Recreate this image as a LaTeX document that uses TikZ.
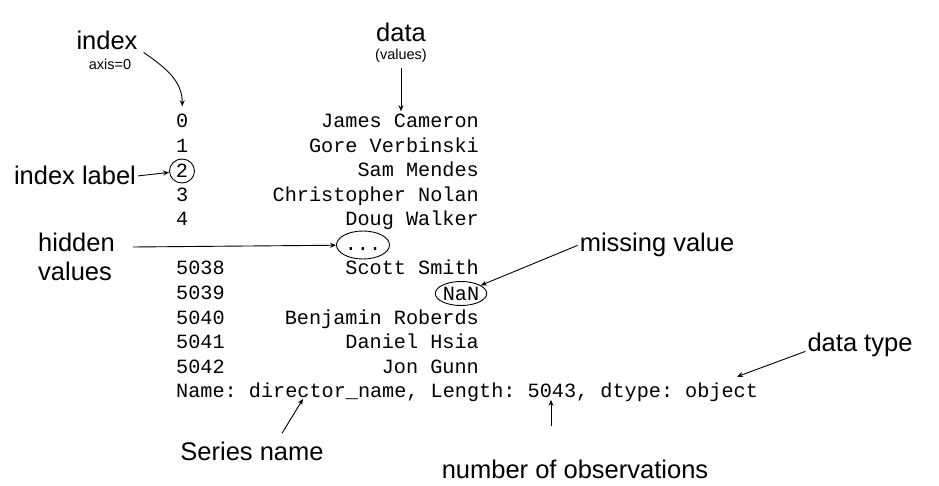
\documentclass[tikz,border=0pt]{standalone}
\usepackage{fontspec}
\setmainfont{Liberation Sans}
\newfontfamily\codefont{Liberation Mono}
\usetikzlibrary{shapes.geometric, arrows.meta, positioning}

\begin{document}
\begin{tikzpicture}[
    x=1pt, y=-1pt,
    callout/.style={font=\fontsize{25.5}{29}\selectfont, inner sep=2pt},
    sublabel/.style={font=\fontsize{14.5}{17}\selectfont, inner sep=2pt},
    codetext/.style={font=\codefont\fontsize{20.2}{24}\selectfont\frenchspacing,
                     inner sep=0pt},
    oval/.style={draw, ellipse, line width=0.9pt, inner sep=0pt,
                 font=\codefont\fontsize{20.2}{24}\selectfont},
    arrow/.style={-{Stealth[length=6pt, width=5pt]}, line width=0.9pt},
]
\useasboundingbox (0,0) rectangle (939,486);

% Index column
\node[codetext, anchor=base west] (idx0) at (176,128) {0};
\node[codetext, anchor=base west] (idx1) at (176,152.5) {1};
\node[oval, minimum width=25pt, minimum height=24pt] (ring2) at (182,171) {2};
\node[codetext, anchor=base west] (idx3) at (176,201.5) {3};
\node[codetext, anchor=base west] (idx4) at (176,226) {4};
\node[codetext, anchor=base west] (idx5038) at (176,275) {5038};
\node[codetext, anchor=base west] (idx5039) at (176,299.5) {5039};
\node[codetext, anchor=base west] (idx5040) at (176,324) {5040};
\node[codetext, anchor=base west] (idx5041) at (176,348.5) {5041};
\node[codetext, anchor=base west] (idx5042) at (176,373) {5042};

% Values column
\node[codetext, anchor=base east] (val0) at (479,128) {James Cameron};
\node[codetext, anchor=base east] (val1) at (479,152.5) {Gore Verbinski};
\node[codetext, anchor=base east] (val2) at (479,177) {Sam Mendes};
\node[codetext, anchor=base east] (val3) at (479,201.5) {Christopher Nolan};
\node[codetext, anchor=base east] (val4) at (479,226) {Doug Walker};
\node[oval, minimum width=53pt, minimum height=28pt] (dotsring) at (363,245) {};
\node[codetext, anchor=base] (dots) at (363,251) {...};
\node[codetext, anchor=base east] (val5038) at (479,275) {Scott Smith};
\node[oval, minimum width=50pt, minimum height=24pt] (nanring) at (461,293.5) {NaN};
\node[codetext, anchor=base east] (val5040) at (479,324) {Benjamin Roberds};
\node[codetext, anchor=base east] (val5041) at (479,348.5) {Daniel Hsia};
\node[codetext, anchor=base east] (val5042) at (479,373) {Jon Gunn};

% Footer line
\node[codetext, anchor=base west] (nameline) at (176,397.5)
    {Name: director\_name, Length: 5043, dtype: object};

% Callouts
\node[callout, anchor=base] (index) at (107,50) {index};
\node[sublabel, below=4pt of index, xshift=3pt] (axis) {axis=0};
\node[callout, anchor=base] (data) at (401,42) {data};
\node[sublabel, below=2pt of data] (values) {(values)};
\node[callout, anchor=base] (idxlabel) at (75,185) {index label};
\node[callout, anchor=west, align=left] (hidvals) at (36,257) {hidden\\values};
\node[callout, anchor=base] (missing) at (657,252) {missing value};
\node[callout, anchor=base] (dtype) at (860,351) {data type};
\node[callout, anchor=base] (series) at (252,460) {Series name};
\node[callout, anchor=base] (numobs) at (575,478) {number of observations};

% Arrows
\draw[arrow] ([xshift=4pt]index.south east) to[out=-35, in=90]
    ([yshift=8pt]idx0.north);
\draw[arrow, shorten <=4pt, shorten >=3pt] (values.south) -- (values.south |- val0.north);
\draw[arrow] (idxlabel.east) -- (ring2);
\draw[arrow] ([xshift=16pt, yshift=10pt]hidvals.east) -- (dotsring);
\draw[arrow] (missing.west) -- (nanring);
\draw[arrow] ([yshift=-7pt]dtype.west) -- ([xshift=561pt, yshift=6pt]nameline.north west);
\draw[arrow] ([xshift=30pt, yshift=6pt]series.north) -- ([xshift=127pt, yshift=3pt]nameline.south west);
\draw[arrow] ([xshift=375pt, yshift=-24pt]nameline.south west) -- ([xshift=375pt, yshift=2pt]nameline.south west);
\end{tikzpicture}
\end{document}
